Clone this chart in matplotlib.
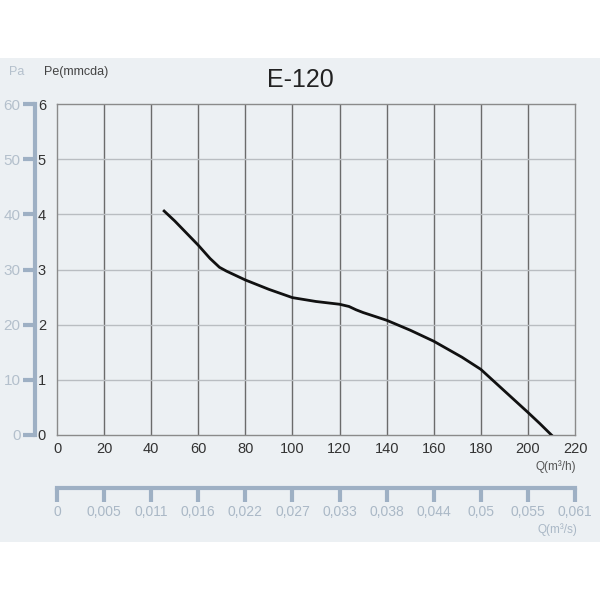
import matplotlib.pyplot as plt
from matplotlib.patches import Rectangle

plt.rcParams['font.family'] = ['Liberation Sans', 'DejaVu Sans']

# curve
q_m3h = [45.5, 50, 55, 60, 65, 69, 72, 76, 80, 90, 100, 110, 120, 124, 127, 130,
         140, 150, 160, 172, 180, 190, 200, 205, 210]
pe_mmcda = [4.06, 3.88, 3.66, 3.44, 3.2, 3.04, 2.97, 2.89, 2.81, 2.64, 2.49, 2.42,
            2.37, 2.33, 2.27, 2.22, 2.08, 1.90, 1.70, 1.41, 1.19, 0.80, 0.41, 0.21, 0.0]

x_ticks = [0, 20, 40, 60, 80, 100, 120, 140, 160, 180, 200, 220]
y_ticks = [0, 1, 2, 3, 4, 5, 6]
pa_ticks = [0, 10, 20, 30, 40, 50, 60]
qs_labels = ['0', '0,005', '0,011', '0,016', '0,022', '0,027', '0,033', '0,038',
             '0,044', '0,05', '0,055', '0,061']

bg = '#ecf0f3'
pale = '#9eb0c4'

fig = plt.figure(figsize=(6, 6), dpi=100)
fig.patch.set_facecolor('white')
fig.patches.append(Rectangle((0, 58 / 600), 1, 484 / 600, transform=fig.transFigure,
                             facecolor=bg, edgecolor='none', zorder=-10))

ax = fig.add_axes([57 / 600, 1 - 435 / 600, 518 / 600, 331 / 600])
ax.set_facecolor(bg)
ax.set_xlim(0, 220)
ax.set_ylim(0, 6)
ax.set_xticks(x_ticks)
ax.set_yticks(y_ticks)
for x in x_ticks[1:-1]:
    ax.axvline(x, color='#6b6b6b', lw=1, zorder=1)
for y in y_ticks[1:-1]:
    ax.axhline(y, color='#b9bdc1', lw=1, zorder=1)
for s in ax.spines.values():
    s.set_color('#8a8a8a')
    s.set_linewidth(1)
ax.tick_params(length=0, labelsize=10.5, labelcolor='#333333')
ax.tick_params(axis='x', pad=5)
ax.tick_params(axis='y', pad=8)

ax.plot(q_m3h, pe_mmcda, color='#111111', lw=2, zorder=3)

# Pa axis on the left
pa = ax.secondary_yaxis(-22 / 518, functions=(lambda v: v * 10, lambda v: v / 10))
pa.set_yticks(pa_ticks)
pa.spines['left'].set_color(pale)
pa.spines['left'].set_linewidth(3)
pa.tick_params(length=9, width=3, color=pale, labelcolor='#b4c0cc', labelsize=11, pad=1.5)

# Q m3/s axis at the bottom
qs = ax.secondary_xaxis(-53 / 331)
qs.set_xticks(x_ticks)
qs.set_xticklabels(qs_labels)
qs.spines['bottom'].set_color(pale)
qs.spines['bottom'].set_linewidth(3)
qs.tick_params(length=10, width=3, color=pale, labelcolor='#aab8c6', labelsize=10, pad=2)

fig.text(300 / 600, 1 - 80 / 600, 'E-120', fontsize=18, color='#222222', ha='center', va='center')
fig.text(17 / 600, 1 - 72 / 600, 'Pa', fontsize=9, color='#b4c0cc', ha='center', va='center')
fig.text(76 / 600, 1 - 72 / 600, 'Pe(mmcda)', fontsize=9, color='#444444', ha='center', va='center')
fig.text(556 / 600, 1 - 467 / 600, 'Q(m³/h)', fontsize=8.5, color='#555555', ha='center', va='center')
fig.text(557 / 600, 1 - 530 / 600, 'Q(m³/s)', fontsize=8.5, color='#aab8c6', ha='center', va='center')

plt.savefig('out.png', dpi=100, facecolor=fig.get_facecolor())
